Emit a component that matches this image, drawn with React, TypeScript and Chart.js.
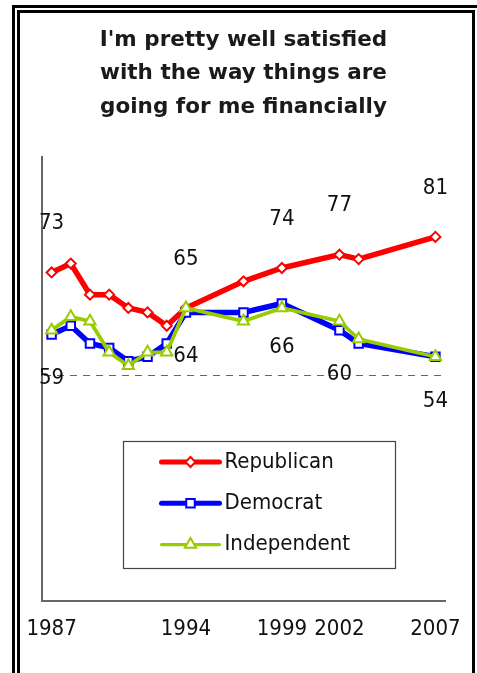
import React, { useEffect, useRef } from "react";
import { Chart, registerables } from "chart.js";

Chart.register(...registerables);

// Survey years and share (%) saying they are pretty well satisfied financially
const years = [1987, 1988, 1989, 1990, 1991, 1992, 1993, 1994, 1997, 1999, 2002, 2003, 2007];
const republican = [73, 75, 68, 68, 65, 64, 61, 65, 71, 74, 77, 76, 81];
const democrat = [59, 61, 57, 56, 53, 54, 57, 64, 64, 66, 60, 57, 54];
const independent = [60, 63, 62, 55, 52, 55, 55, 65, 62, 65, 62, 58, 54];

// Years shown on the axis and years whose values are printed
const tickYears = [1987, 1994, 1999, 2002, 2007];
const labeledYears = [1987, 1994, 1999, 2002, 2007];

const titleLines = ["I'm pretty well satisfied", "with the way things are", "going for me financially"];
const seriesNames = ["Republican", "Democrat", "Independent"];
const referenceLevel = 50;

const FONT = "'DejaVu Sans Condensed', 'DejaVu Sans', sans-serif";
const TITLE_FONT = "'DejaVu Sans', sans-serif";
const INK = "#111";

function drawMarker(ctx: CanvasRenderingContext2D, style: string, x: number, y: number, r: number) {
  ctx.beginPath();
  if (style === "rectRot") {
    ctx.moveTo(x, y - r);
    ctx.lineTo(x + r, y);
    ctx.lineTo(x, y + r);
    ctx.lineTo(x - r, y);
  } else if (style === "rect") {
    const s = r * Math.SQRT1_2;
    ctx.rect(x - s, y - s, 2 * s, 2 * s);
  } else {
    const h = r;
    ctx.moveTo(x, y - h);
    ctx.lineTo(x + h * Math.sin(Math.PI / 3), y + h / 2);
    ctx.lineTo(x - h * Math.sin(Math.PI / 3), y + h / 2);
  }
  ctx.closePath();
  ctx.fill();
  ctx.stroke();
}

// Dashed reference line across the plot
const referenceLine = {
  id: "referenceLine",
  beforeDatasetsDraw(chart: any) {
    const { ctx, chartArea } = chart;
    const y = Math.round(chart.scales.y.getPixelForValue(referenceLevel)) + 0.5;
    ctx.save();
    ctx.strokeStyle = "#666";
    ctx.lineWidth = 1;
    ctx.setLineDash([7, 6]);
    ctx.beginPath();
    ctx.moveTo(chartArea.left + 2, y);
    ctx.lineTo(chartArea.right, y);
    ctx.stroke();
    ctx.restore();
  },
};

// Value labels: Republican above its points, Democrat below its points
const valueLabels = {
  id: "valueLabels",
  afterDatasetsDraw(chart: any) {
    const ctx = chart.ctx;
    ctx.save();
    ctx.font = `22px ${FONT}`;
    ctx.fillStyle = INK;
    ctx.textAlign = "center";
    ctx.textBaseline = "middle";
    const placements: [number, number][] = [
      [0, -49],
      [1, 44],
    ];
    placements.forEach(([di, dy]) => {
      const meta = chart.getDatasetMeta(di);
      const ds = chart.data.datasets[di];
      meta.data.forEach((pt: any, i: number) => {
        if (!labeledYears.includes(ds.data[i].x)) return;
        ctx.fillText(String(ds.data[i].y), pt.x, pt.y + dy);
      });
    });
    ctx.restore();
  },
};

// Boxed legend inside the plot area
const boxedLegend = {
  id: "boxedLegend",
  afterDraw(chart: any) {
    const { ctx, chartArea } = chart;
    const left = chartArea.left + 81.5;
    const top = chartArea.top + 284.5;
    const width = 272;
    const height = 127;
    ctx.save();
    ctx.strokeStyle = "#444";
    ctx.lineWidth = 1.2;
    ctx.strokeRect(left, top, width, height);
    chart.data.datasets.forEach((ds: any, i: number) => {
      const cy = top + 20.5 + i * 41.3;
      const x0 = left + 38;
      const x1 = left + 96;
      ctx.strokeStyle = ds.borderColor;
      ctx.lineWidth = ds.borderWidth - 0.5;
      ctx.lineCap = "round";
      ctx.beginPath();
      ctx.moveTo(x0, cy);
      ctx.lineTo(x1, cy);
      ctx.stroke();
      ctx.lineWidth = ds.pointBorderWidth;
      ctx.fillStyle = ds.pointBackgroundColor;
      ctx.strokeStyle = ds.pointBorderColor;
      drawMarker(ctx, ds.pointStyle, (x0 + x1) / 2, cy, ds.pointRadius);
      ctx.font = `22px ${FONT}`;
      ctx.fillStyle = INK;
      ctx.textAlign = "left";
      ctx.textBaseline = "middle";
      ctx.fillText(ds.label, x1 + 5, cy);
    });
    ctx.restore();
  },
};

function series(values: number[]) {
  return values.map((v, i) => ({ x: years[i], y: v }));
}

export default function App() {
  const canvasRef = useRef<HTMLCanvasElement | null>(null);

  useEffect(() => {
    const canvas = canvasRef.current;
    if (!canvas) return;
    const chart = new Chart(canvas, {
      type: "line",
      data: {
        datasets: [
          {
            label: seriesNames[0],
            data: series(republican),
            borderColor: "#FF0000",
            borderWidth: 5.5,
            pointStyle: "rectRot",
            pointRadius: 5,
            pointBorderWidth: 2,
            pointBackgroundColor: "#FFFFFF",
            pointBorderColor: "#FF0000",
            order: 3,
          },
          {
            label: seriesNames[1],
            data: series(democrat),
            borderColor: "#0000FF",
            borderWidth: 5.5,
            pointStyle: "rect",
            pointRadius: 6,
            pointBorderWidth: 2,
            pointBackgroundColor: "#FFFFFF",
            pointBorderColor: "#0000FF",
            order: 2,
          },
          {
            label: seriesNames[2],
            data: series(independent),
            borderColor: "#99CC00",
            borderWidth: 3.75,
            pointStyle: "triangle",
            pointRadius: 6.5,
            pointBorderWidth: 2,
            pointBackgroundColor: "#FFFFFF",
            pointBorderColor: "#99CC00",
            order: 1,
          },
        ] as any,
      },
      options: {
        animation: false,
        responsive: false,
        devicePixelRatio: 1,
        layout: { padding: { left: 42, right: 32, top: 0, bottom: 15.6 }, autoPadding: false },
        plugins: {
          legend: { display: false },
          tooltip: { enabled: false },
          title: {
            display: true,
            text: titleLines,
            color: "#1a1a1a",
            font: { family: TITLE_FONT, size: 21.5, weight: "bold", lineHeight: 1.558 },
            padding: { top: 23.25, bottom: 33.25 },
          },
        },
        scales: {
          x: {
            type: "linear",
            min: 1986.5,
            max: 2007.5,
            afterBuildTicks: (scale: any) => {
              scale.ticks = tickYears.map((v) => ({ value: v }));
            },
            ticks: {
              callback: (v: any) => String(v),
              color: INK,
              font: { family: FONT, size: 22 },
              padding: 15,
              maxRotation: 0,
              autoSkip: false,
            },
            grid: { display: false, drawTicks: false },
            border: { display: true, color: "#666", width: 2 },
          },
          y: {
            min: -1,
            max: 99,
            ticks: { display: false },
            grid: { display: false, drawTicks: false },
            border: { display: true, color: "#666", width: 2 },
          },
        },
      } as any,
      plugins: [referenceLine, valueLabels, boxedLegend],
    });
    return () => chart.destroy();
  }, []);

  return (
    <div
      style={{
        position: "fixed",
        left: 0,
        top: 0,
        width: 477,
        height: 673,
        overflow: "hidden",
        background: "#fff",
      }}
    >
      <canvas ref={canvasRef} width={477} height={673} style={{ position: "absolute", left: 0, top: 0, width: 477, height: 673 }} />
      <div
        style={{
          position: "absolute",
          left: 12,
          top: 5,
          width: 490,
          height: 700,
          border: "3px solid #000",
          boxSizing: "border-box",
          pointerEvents: "none",
        }}
      />
      <div
        style={{
          position: "absolute",
          left: 17,
          top: 10,
          width: 458,
          height: 700,
          border: "3px solid #000",
          boxSizing: "border-box",
          pointerEvents: "none",
        }}
      />
    </div>
  );
}
